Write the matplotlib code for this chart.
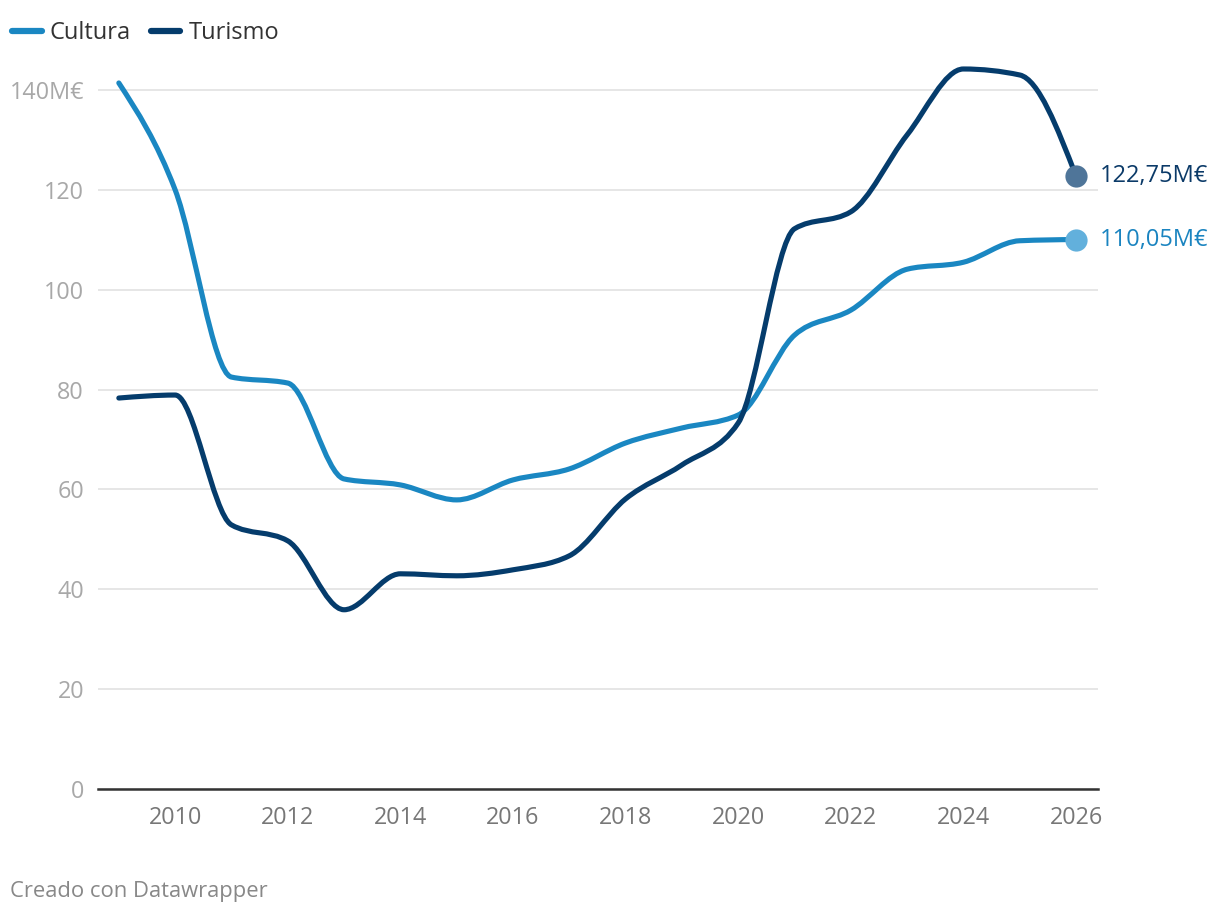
import numpy as np
import matplotlib
matplotlib.use("Agg")
import matplotlib.pyplot as plt
from matplotlib.path import Path
from matplotlib.patches import PathPatch
from matplotlib.lines import Line2D

plt.rcParams['font.family'] = ['Open Sans', 'DejaVu Sans']

years = list(range(2009, 2027))
cultura = [141.4, 120.0, 82.5, 81.3, 62.1, 60.9, 57.9, 61.9, 64.1, 69.3,
           72.3, 74.9, 90.9, 95.9, 104.1, 105.5, 109.8, 110.05]
turismo = [78.3, 78.9, 52.9, 49.7, 35.9, 43.1, 42.7, 43.9, 46.7, 58.1,
           64.9, 73.3, 112.2, 115.6, 131.0, 144.2, 143.0, 122.75]
series = ["Cultura", "Turismo"]
end_labels = ["110,05M€", "122,75M€"]

c_cult = "#1a87c2"
c_tur = "#053c6c"
dot_cult = "#62b0dc"
dot_tur = "#4f7599"


def monotone_path(x, y):
    # same shape as d3 curveMonotoneX, as cubic bezier segments
    x = np.asarray(x, float)
    y = np.asarray(y, float)
    n = len(x)
    h = np.diff(x)
    s = np.diff(y) / h
    t = np.zeros(n)
    for i in range(1, n - 1):
        p = (s[i - 1] * h[i] + s[i] * h[i - 1]) / (h[i - 1] + h[i])
        t[i] = (np.sign(s[i - 1]) + np.sign(s[i])) * min(abs(s[i - 1]), abs(s[i]), 0.5 * abs(p))
    t[0] = (3 * s[0] - t[1]) / 2
    t[-1] = (3 * s[-1] - t[-2]) / 2
    verts = [(x[0], y[0])]
    codes = [Path.MOVETO]
    for i in range(n - 1):
        dx = h[i] / 3
        verts += [(x[i] + dx, y[i] + dx * t[i]),
                  (x[i + 1] - dx, y[i + 1] - dx * t[i + 1]),
                  (x[i + 1], y[i + 1])]
        codes += [Path.CURVE4] * 3
    return Path(verts, codes)


fig = plt.figure(figsize=(12.2, 9.16), dpi=100)
ax = fig.add_axes([98 / 1220, 1 - 789 / 916, 1000 / 1220, 729 / 916])
ax.set_xlim(2008.63, 2026.39)
ax.set_ylim(0, 146)

for vals, col in [(cultura, c_cult), (turismo, c_tur)]:
    patch = PathPatch(monotone_path(years, vals), facecolor='none', edgecolor=col,
                      lw=3.7, capstyle='round', joinstyle='round', clip_on=False, zorder=3)
    ax.add_patch(patch)

ax.plot(years[-1], cultura[-1], 'o', ms=16, color=dot_cult, mec='none', zorder=4, clip_on=False)
ax.plot(years[-1], turismo[-1], 'o', ms=16, color=dot_tur, mec='none', zorder=4, clip_on=False)
ax.text(2026.42, cultura[-1], end_labels[0], color="#1a84c0", fontsize=17, va='center', ha='left')
ax.text(2026.42, turismo[-1], end_labels[1], color="#0b3a68", fontsize=17, va='center', ha='left')

yt = [0, 20, 40, 60, 80, 100, 120, 140]
ax.set_yticks(yt)
ax.set_yticklabels([str(v) if v != 140 else "140M€" for v in yt])
ax.set_xticks(list(range(2010, 2027, 2)))
ax.grid(axis='y', color='#e2e2e2', lw=1.2)
ax.set_axisbelow(True)
for sp in ['top', 'right', 'left']:
    ax.spines[sp].set_visible(False)
ax.spines['bottom'].set_color('#333333')
ax.spines['bottom'].set_linewidth(1.8)
ax.spines['bottom'].set_zorder(5)
ax.tick_params(axis='y', length=0, pad=10, labelsize=16.8, labelcolor='#a8a8a8')
ax.tick_params(axis='x', length=0, pad=12, labelsize=16.8, labelcolor='#777777')

handles = [Line2D([0], [0], color=c_cult, lw=4.5, solid_capstyle='round'),
           Line2D([0], [0], color=c_tur, lw=4.5, solid_capstyle='round')]
fig.legend(handles, series, loc='upper left', bbox_to_anchor=(12 / 1220, 1 - 21 / 916), ncol=2,
           frameon=False, fontsize=17, handlelength=1.25, handletextpad=0.35, columnspacing=0.85,
           labelcolor='#333333', borderaxespad=0, borderpad=0)

fig.text(10 / 1220, 1 - 892 / 916, "Creado con Datawrapper", fontsize=15.8, color='#888888',
         va='center', ha='left')

fig.savefig("out.png", dpi=100)
